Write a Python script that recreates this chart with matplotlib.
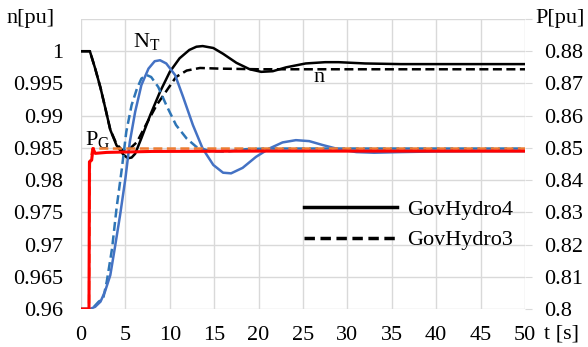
import numpy as np
import matplotlib
matplotlib.use('Agg')
import matplotlib.pyplot as plt
from matplotlib.lines import Line2D

plt.rcParams['font.family'] = 'Liberation Serif'
plt.rcParams['mathtext.fontset'] = 'custom'
plt.rcParams['mathtext.rm'] = 'Liberation Serif'
plt.rcParams['mathtext.it'] = 'Liberation Serif:italic'

# speed n [pu] (left axis)
t_n4 = [0, 1.0, 1.6, 2.2, 2.8, 3.3, 4.0, 4.8, 5.3, 5.7, 6.1, 6.8, 7.8, 8.9, 10, 11.1, 12.2, 13.0,
        13.7, 14.9, 16, 17.5, 19, 20.3, 21.6, 23.1, 25.3, 27.5, 29, 32, 36, 40, 50]
n_gov4 = [1.0, 1.0, 0.9973, 0.9943, 0.9908, 0.9878, 0.9854, 0.9839, 0.9834, 0.9835, 0.9841, 0.9865,
          0.9901, 0.9937, 0.9968, 0.9989, 1.0002, 1.0007, 1.0008, 1.0005, 0.9996, 0.9982, 0.9972,
          0.9968, 0.9969, 0.9975, 0.9981, 0.9983, 0.9983, 0.9981, 0.9980, 0.9980, 0.9980]

t_n3 = [0, 1.0, 1.6, 2.2, 2.8, 3.3, 4.0, 4.6, 5.0, 5.6, 6.3, 7.4, 8.5, 9.6, 10.7, 11.9, 13.4,
        15.6, 20, 50]
n_gov3 = [1.0, 1.0, 0.9973, 0.9943, 0.9908, 0.9878, 0.9856, 0.9847, 0.9846, 0.9850, 0.9859,
          0.9888, 0.9916, 0.9938, 0.9960, 0.9970, 0.9974, 0.9973, 0.9972, 0.9972]

# turbine power N_T and generator power P_G [pu] (right axis)
t_nt4 = [0, 1.0, 1.6, 2.2, 2.7, 3.3, 3.8, 4.4, 5.0, 5.5, 6.1, 6.8, 7.6, 8.3, 8.9, 9.6, 10.6,
         11.5, 12.6, 13.7, 14.9, 16, 16.9, 18.2, 19.7, 21.2, 22.7, 24.2, 25.7, 27.2, 29, 31,
         33, 36, 40, 45, 50]
nt_gov4 = [0.8, 0.8, 0.8007, 0.8023, 0.8054, 0.8105, 0.8188, 0.8291, 0.8405, 0.8519, 0.8612,
           0.8695, 0.8746, 0.8769, 0.8772, 0.8762, 0.8726, 0.8658, 0.8571, 0.8498, 0.8447,
           0.8423, 0.8421, 0.8438, 0.8472, 0.8498, 0.8517, 0.8524, 0.8521, 0.8509, 0.8496,
           0.8487, 0.8485, 0.8487, 0.8489, 0.8490, 0.8490]

t_nt3 = [0, 1.0, 1.4, 2.0, 2.5, 2.9, 3.5, 4.0, 4.6, 5.1, 5.7, 6.3, 6.8, 7.4, 7.9, 8.7, 9.6,
         10.7, 11.9, 13.0, 14.5, 16.3, 18.6, 20.8, 50]
nt_gov3 = [0.8, 0.8, 0.8005, 0.8023, 0.8033, 0.8085, 0.8188, 0.8312, 0.8436, 0.8550, 0.8633,
           0.8684, 0.8715, 0.8726, 0.8720, 0.8689, 0.8633, 0.8571, 0.8529, 0.8503, 0.8490,
           0.8488, 0.8496, 0.8498, 0.8498]

t_pg4 = [0, 0.9, 0.95, 1.2, 1.35, 1.6, 2.9, 8, 20, 50]
pg_gov4 = [0.8, 0.8, 0.8457, 0.8462, 0.8498, 0.8483, 0.8486, 0.8489, 0.8490, 0.8490]

t_pg3 = [0, 0.9, 1.0, 1.3, 50]
pg_gov3 = [0.8, 0.8, 0.845, 0.8498, 0.8498]

fig = plt.figure(figsize=(5.88, 3.47), dpi=100)
ax = fig.add_axes([81/588, 38/347, 444/588, 290/347])
ax2 = ax.twinx()

grid_col = '#d9d9d9'
fs = 16

ax.plot(t_n3, n_gov3, color='black', lw=1.8, dashes=(3.6, 1.8))
ax.plot(t_n4, n_gov4, color='black', lw=1.8)
ax.set_xlim(0, 50)
ax.set_ylim(0.96, 1.005)
ax.set_xticks(np.arange(0, 51, 5))
yt = np.arange(0.96, 1.0051, 0.005)
ax.set_yticks(yt)
ax.set_yticklabels(['%g' % round(v, 3) for v in yt[:-1]] + [''])
ax.grid(True, color=grid_col, lw=1)
ax.tick_params(axis='both', length=0, labelsize=fs)
ax.tick_params(axis='y', pad=13)
ax.tick_params(axis='x', pad=12)
for s in ax.spines.values():
    s.set_visible(False)

ax2.plot(t_nt3, nt_gov3, color='#2e75b6', lw=1.8, dashes=(3.6, 1.8))
ax2.plot(t_nt4, nt_gov4, color='#4472c4', lw=1.8)
ax2.plot(t_pg3, pg_gov3, color='#ed7d31', lw=1.8, dashes=(3.6, 1.8))
ax2.plot(t_pg4, pg_gov4, color='#ff0000', lw=2.2)
ax2.set_ylim(0.8, 0.89)
yt2 = np.arange(0.8, 0.8901, 0.01)
ax2.set_yticks(yt2)
ax2.set_yticklabels(['%g' % round(v, 2) for v in yt2[:-1]] + [''])
ax2.tick_params(axis='y', length=5, color=grid_col, labelsize=fs, pad=9)
for s in ax2.spines.values():
    s.set_visible(False)

# axis titles sitting where the top / last tick labels would be
ax.annotate('n[pu]', xy=(0, 1), xycoords='axes fraction', xytext=(-26, 0),
            textcoords='offset pixels', ha='right', va='center', fontsize=fs)
ax2.annotate('P[pu]', xy=(1, 1), xycoords='axes fraction', xytext=(10, 0),
             textcoords='offset pixels', ha='left', va='center', fontsize=fs)
ax.annotate('t [s]', xy=(1, 0), xycoords='axes fraction', xytext=(37, -16),
            textcoords='offset pixels', ha='center', va='top', fontsize=fs)

# curve labels
ax.text(5.85, 1.0006, r'N$_\mathrm{T}$', fontsize=fs, ha='left', va='baseline')
ax.text(0.45, 0.9854, r'P$_\mathrm{G}$', fontsize=fs, ha='left', va='baseline')
ax.text(26.2, 0.9952, 'n', fontsize=fs, ha='left', va='baseline')

handles = [Line2D([], [], color='black', lw=2.5),
           Line2D([], [], color='black', lw=2.5, dashes=(3, 1.6))]
ax2.legend(handles, ['GovHydro4', 'GovHydro3'], loc='center left',
           bbox_to_anchor=(0.502, 0.29), frameon=False, fontsize=fs,
           handlelength=4.2, handletextpad=0.45, labelspacing=0.45,
           borderpad=0, borderaxespad=0)

plt.savefig('out.png', dpi=100)
